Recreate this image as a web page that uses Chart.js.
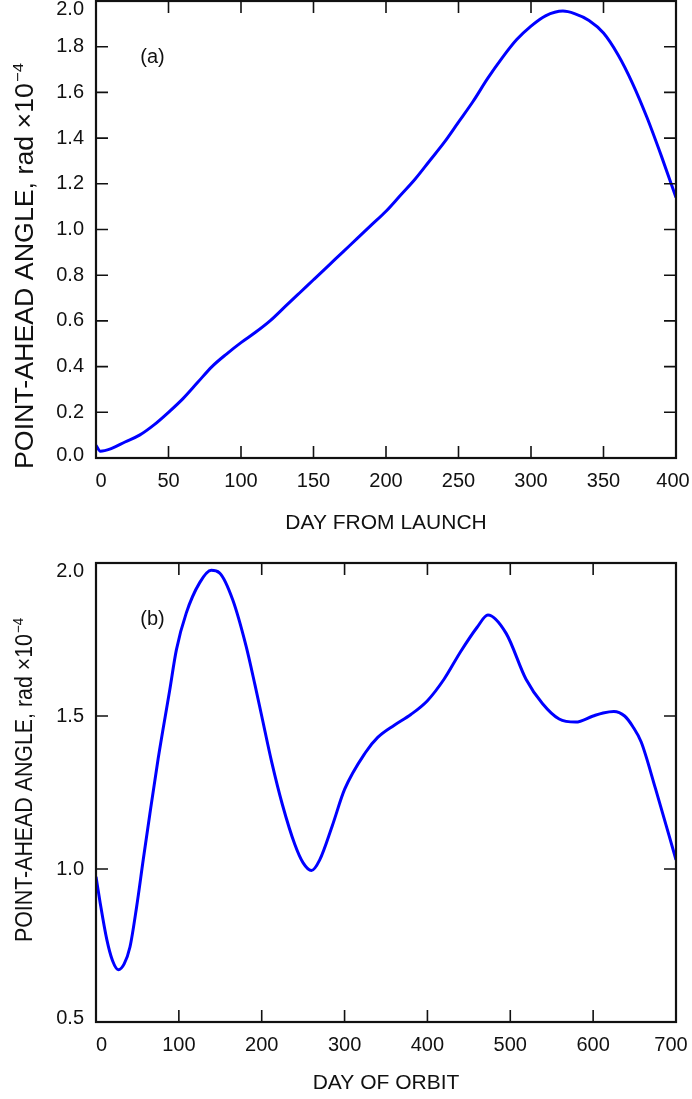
<!DOCTYPE html>
<html>
<head>
<meta charset="utf-8">
<script src="https://cdn.jsdelivr.net/npm/chart.js@4.4.1/dist/chart.umd.min.js"></script>
<style>
  html, body { margin: 0; padding: 0; background: #fff; }
  #wrap { position: relative; width: 692px; height: 1099px; overflow: hidden; background: #fff; }
  canvas { position: absolute; left: 0; }
  #launch { top: 0; }
  #orbit { top: 540px; }
</style>
</head>
<body>
<div id="wrap">
  <canvas id="launch" width="692" height="540" style="width:692px;height:540px"></canvas>
  <canvas id="orbit" width="692" height="559" style="width:692px;height:559px"></canvas>
</div>
<script>
// (a) point-ahead angle versus day from launch, rad x 1e-4
const launchDays  = [0, 3, 10, 20, 30, 40, 50, 60, 70, 80, 90, 100, 110, 120, 130, 140, 150, 160, 170, 180,
                     190, 200, 210, 220, 230, 240, 250, 260, 270, 280, 290, 300, 310, 322, 330, 340, 350, 360,
                     370, 380, 390, 400];
const launchAngle = [0.055, 0.03, 0.04, 0.07, 0.10, 0.145, 0.20, 0.26, 0.33, 0.40, 0.455, 0.505, 0.55, 0.60,
                     0.66, 0.72, 0.78, 0.84, 0.90, 0.96, 1.02, 1.08, 1.15, 1.22, 1.30, 1.38, 1.47, 1.56, 1.66,
                     1.75, 1.83, 1.89, 1.935, 1.956, 1.945, 1.915, 1.86, 1.765, 1.64, 1.49, 1.32, 1.14];

// (b) point-ahead angle versus day of orbit, rad x 1e-4
const orbitDays  = [0, 5, 13, 20, 27, 34, 41, 49, 57, 65, 75, 89, 97, 109, 125, 139, 149, 165, 181, 192,
                    200, 212, 225, 240, 250, 260, 270, 285, 300, 325, 340, 360, 380, 400, 420, 440, 460, 473,
                    495, 519, 539, 559, 579, 600, 612, 625, 638, 648, 658, 675, 700];
const orbitAngle = [0.975, 0.89, 0.77, 0.70, 0.671, 0.69, 0.745, 0.876, 1.03, 1.18, 1.36, 1.585, 1.716, 1.837,
                    1.935, 1.976, 1.968, 1.88, 1.73, 1.60, 1.50, 1.35, 1.21, 1.08, 1.02, 0.995, 1.03, 1.14,
                    1.26, 1.38, 1.43, 1.47, 1.505, 1.55, 1.62, 1.71, 1.79, 1.83, 1.77, 1.62, 1.54, 1.49, 1.48,
                    1.50, 1.51, 1.515, 1.50, 1.465, 1.415, 1.265, 1.03];

// tick values
const launchXTicks = [0, 50, 100, 150, 200, 250, 300, 350, 400];
const launchYTicks = [0.0, 0.2, 0.4, 0.6, 0.8, 1.0, 1.2, 1.4, 1.6, 1.8, 2.0];
const orbitXTicks  = [0, 100, 200, 300, 400, 500, 600, 700];
const orbitYTicks  = [0.5, 1.0, 1.5, 2.0];

const FONT = '"Liberation Sans", Arial, Helvetica, sans-serif';
const INK = '#111';
const TICK_SIZE = 20;
const TICK_PAD_X = 11;
const TICK_PAD_Y = 12;

function isNudged(list, axis, value) {
  return list.some(n => n.axis === axis && Math.abs(n.value - value) < 1e-9);
}

// Rotated axis title with a superscript exponent, fitted to a given length
function drawVerticalTitle(ctx, main, sup, size, length, cx, cy) {
  ctx.font = `${size}px ${FONT}`;
  const w1 = ctx.measureText(main).width;
  ctx.font = `${size * 0.62}px ${FONT}`;
  const w2 = ctx.measureText(sup).width;
  const total = w1 + w2 + 1;
  const sx = length / total;
  ctx.save();
  ctx.translate(cx + 0.716 * size / 2, cy);
  ctx.rotate(-Math.PI / 2);
  ctx.scale(sx, 1);
  ctx.fillStyle = INK;
  ctx.textAlign = 'left';
  ctx.textBaseline = 'alphabetic';
  ctx.font = `${size}px ${FONT}`;
  ctx.fillText(main, -total / 2, 0);
  ctx.font = `${size * 0.62}px ${FONT}`;
  ctx.fillText(sup, -total / 2 + w1 + 1, -0.4 * size);
  ctx.restore();
}

// Closed frame with inward ticks on all four sides, plus titles and panel letter
const framePlugin = {
  id: 'frame',
  afterDraw(chart, args, o) {
    const { ctx, chartArea: a } = chart;
    const xs = chart.scales.x, ys = chart.scales.y;
    ctx.save();
    ctx.strokeStyle = INK;
    ctx.lineWidth = 1.6;
    ctx.beginPath();
    for (const v of o.xTicks.slice(1, -1)) {
      const px = xs.getPixelForValue(v);
      ctx.moveTo(px, a.bottom); ctx.lineTo(px, a.bottom - 12);
      ctx.moveTo(px, a.top);    ctx.lineTo(px, a.top + 12);
    }
    for (const v of o.yTicks.slice(1, -1)) {
      const py = ys.getPixelForValue(v);
      ctx.moveTo(a.left, py);  ctx.lineTo(a.left + 12, py);
      ctx.moveTo(a.right, py); ctx.lineTo(a.right - 12, py);
    }
    ctx.stroke();
    ctx.lineWidth = 2.2;
    ctx.strokeRect(a.left, a.top, a.right - a.left, a.bottom - a.top);

    // edge tick labels, shifted inward
    ctx.fillStyle = INK;
    ctx.font = `${TICK_SIZE}px ${FONT}`;
    ctx.textBaseline = 'middle';
    for (const n of o.nudges) {
      if (n.axis === 'x') {
        ctx.textAlign = 'center';
        const px = xs.getPixelForValue(n.value) + n.d;
        const py = a.bottom + TICK_PAD_X + TICK_SIZE * 1.2 / 2;
        ctx.fillText(n.text, px, py);
      } else {
        ctx.textAlign = 'right';
        const py = ys.getPixelForValue(n.value) + n.d;
        ctx.fillText(n.text, a.left - TICK_PAD_Y, py);
      }
    }

    // x axis title
    ctx.textAlign = 'center';
    ctx.textBaseline = 'alphabetic';
    ctx.font = `21px ${FONT}`;
    ctx.fillText(o.xTitle, (a.left + a.right) / 2, o.xTitleBase);

    // panel letter
    ctx.font = `20px ${FONT}`;
    ctx.fillText(o.letter, o.letterX, o.letterBase);

    drawVerticalTitle(ctx, 'POINT-AHEAD ANGLE, rad \u00d710', '\u22124',
                      o.yTitleSize, o.yTitleLen, o.yTitleX, o.yTitleY);
    ctx.restore();
  }
};

function makeChart(id, days, angle, xTicks, yTicks, xMin, xMax, yMin, yMax, yDecimals, frame, pad, xAxisHeight) {
  const pts = days.map((d, i) => ({ x: d, y: angle[i] }));
  return new Chart(document.getElementById(id), {
    type: 'line',
    data: {
      datasets: [{
        data: pts,
        borderColor: 'rgb(0,0,255)',
        borderWidth: 3,
        pointRadius: 0,
        fill: false,
        cubicInterpolationMode: 'monotone'
      }]
    },
    options: {
      responsive: false,
      animation: false,
      events: [],
      layout: { padding: pad },
      plugins: { legend: { display: false }, tooltip: { enabled: false }, frame: frame },
      scales: {
        x: {
          type: 'linear', min: xMin, max: xMax,
          grid: { display: false, drawTicks: false },
          border: { display: false },
          afterBuildTicks: s => { s.ticks = xTicks.map(v => ({ value: v })); },
          afterFit: s => { s.height = xAxisHeight; s.paddingLeft = 0; s.paddingRight = 0; },
          ticks: {
            font: { family: FONT, size: TICK_SIZE },
            padding: TICK_PAD_X,
            maxRotation: 0, autoSkip: false,
            color: c => isNudged(frame.nudges, 'x', c.tick.value) ? 'rgba(0,0,0,0)' : INK,
            callback: v => String(v)
          }
        },
        y: {
          type: 'linear', min: yMin, max: yMax,
          grid: { display: false, drawTicks: false },
          border: { display: false },
          afterBuildTicks: s => { s.ticks = yTicks.map(v => ({ value: v })); },
          afterFit: s => { s.width = 96; s.paddingTop = 0; s.paddingBottom = 0; },
          ticks: {
            font: { family: FONT, size: TICK_SIZE },
            padding: TICK_PAD_Y,
            autoSkip: false,
            color: c => isNudged(frame.nudges, 'y', c.tick.value) ? 'rgba(0,0,0,0)' : INK,
            callback: v => Number(v).toFixed(yDecimals)
          }
        }
      }
    },
    plugins: [framePlugin]
  });
}

makeChart('launch', launchDays, launchAngle, launchXTicks, launchYTicks, 0, 400, 0, 2.0, 1, {
  xTicks: launchXTicks, yTicks: launchYTicks,
  nudges: [
    { axis: 'x', value: 0, text: '0', d: 5 },
    { axis: 'x', value: 400, text: '400', d: -3 },
    { axis: 'y', value: 2.0, text: '2.0', d: 8 },
    { axis: 'y', value: 0.0, text: '0.0', d: -3 }
  ],
  xTitle: 'DAY FROM LAUNCH', xTitleBase: 528.5,
  letter: '(a)', letterX: 152.5, letterBase: 62.5,
  yTitleSize: 25, yTitleLen: 406, yTitleX: 24, yTitleY: 266
}, { top: 1, right: 16, left: 0, bottom: 0 }, 82);

makeChart('orbit', orbitDays, orbitAngle, orbitXTicks, orbitYTicks, 0, 700, 0.5, 2.0, 1, {
  xTicks: orbitXTicks, yTicks: orbitYTicks,
  nudges: [
    { axis: 'x', value: 0, text: '0', d: 5.5 },
    { axis: 'x', value: 700, text: '700', d: -5 },
    { axis: 'y', value: 2.0, text: '2.0', d: 8 },
    { axis: 'y', value: 0.5, text: '0.5', d: -4 }
  ],
  xTitle: 'DAY OF ORBIT', xTitleBase: 548.5,
  letter: '(b)', letterX: 152.5, letterBase: 84.5,
  yTitleSize: 23.5, yTitleLen: 324, yTitleX: 23.5, yTitleY: 240
}, { top: 23, right: 16, left: 0, bottom: 0 }, 77);
</script>
</body>
</html>
